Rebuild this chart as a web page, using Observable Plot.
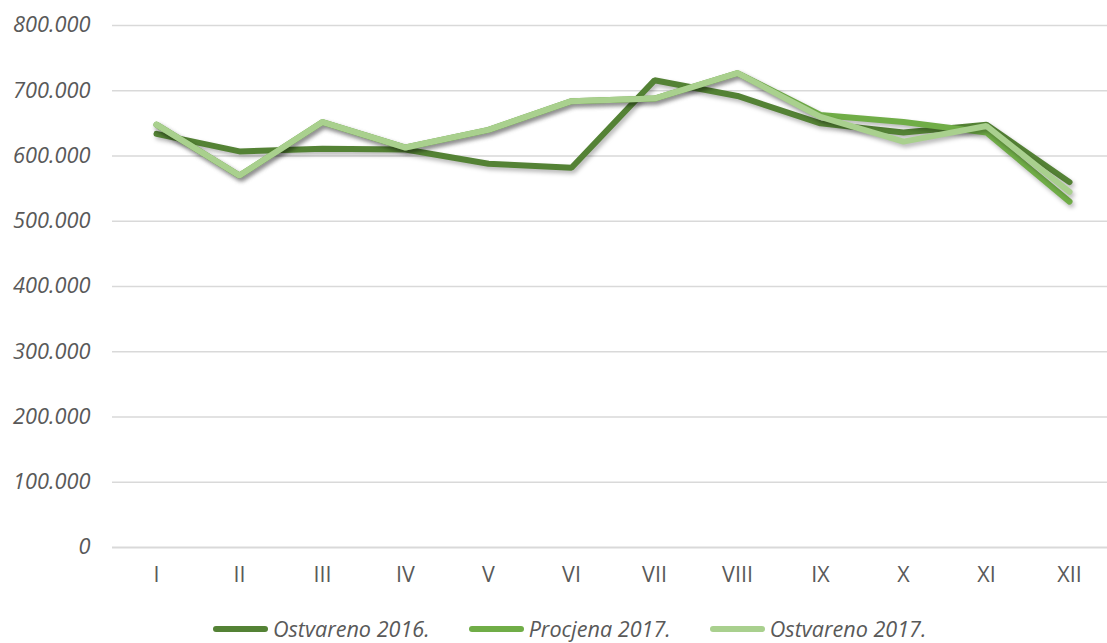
<!DOCTYPE html>
<html>
<head>
<meta charset="utf-8">
<script src="https://cdn.jsdelivr.net/npm/d3@7"></script>
<script src="https://cdn.jsdelivr.net/npm/@observablehq/plot@0.6"></script>
<style>
  html, body { margin: 0; padding: 0; background: #fff; }
  #chart { position: relative; width: 1107px; height: 643px; overflow: hidden; }
  .shadow { filter: drop-shadow(2px 3px 2px rgba(0,0,0,0.28)); }
  #legend { position: absolute; left: 213px; top: 614px; display: flex; align-items: center;
    font-family: "Open Sans", sans-serif; font-style: italic; font-size: 21.6px; color: #595959; }
  .item { display: flex; align-items: center; margin-right: 39px; }
  .sw { width: 55px; height: 6px; border-radius: 3px; margin-right: 5px; }
</style>
</head>
<body>
<div id="chart"></div>
<script>
const months = ["I","II","III","IV","V","VI","VII","VIII","IX","X","XI","XII"];
const seriesNames = ["Ostvareno 2016.", "Procjena 2017.", "Ostvareno 2017."];
const seriesColors = ["#548235", "#70ad47", "#a9d08e"];
const ostvareno2016 = [634000, 607000, 611000, 610000, 588000, 582000, 716000, 692000, 650000, 636000, 648000, 560000];
const procjena2017  = [648000, 570000, 652000, 613000, 640000, 684000, 688000, 727000, 663000, 652000, 636000, 530000];
const ostvareno2017 = [648000, 570000, 652000, 613000, 640000, 684000, 688000, 727000, 660000, 622000, 646000, 545000];
const yTicks = [0, 100000, 200000, 300000, 400000, 500000, 600000, 700000, 800000];

const allSeries = [ostvareno2016, procjena2017, ostvareno2017];
const data = [];
allSeries.forEach((vals, s) => vals.forEach((v, i) => data.push({month: months[i], value: v, series: seriesNames[s]})));

const fmt = d => d === 0 ? "0" : d3.format(",")(d).replace(/,/g, ".");

const marks = [
  Plot.ruleY(yTicks.filter(d => d > 0), {stroke: "#d9d9d9", strokeWidth: 1.5}),
  Plot.ruleY([0], {stroke: "#d9d9d9", strokeWidth: 2}),
  Plot.axisY({ticks: yTicks, tickFormat: fmt, tickSize: 0, tickPadding: 22, label: null,
    fontSize: 21.8, fontStyle: "italic", fill: "#595959"}),
  Plot.axisX({tickSize: 0, tickPadding: 19, label: null, fontSize: 21.5, fill: "#595959"})
];
seriesNames.forEach((name, s) => {
  marks.push(Plot.line(data.filter(d => d.series === name), {
    x: "month", y: "value", stroke: seriesColors[s], strokeWidth: 6,
    strokeLinejoin: "miter", strokeLinecap: "round", className: "shadow"
  }));
});

const plot = Plot.plot({
  width: 1107,
  height: 600,
  marginTop: 25,
  marginBottom: 53,
  marginLeft: 112,
  marginRight: 0,
  style: {fontFamily: "'Open Sans', sans-serif", color: "#595959", background: "#fff"},
  x: {type: "point", domain: months, padding: 0.5, range: [112, 1112]},
  y: {domain: [0, 800000], range: [547, 25]},
  marks
});
const chart = document.getElementById("chart");
chart.appendChild(plot);

const legend = document.createElement("div");
legend.id = "legend";
seriesNames.forEach((name, s) => {
  const it = document.createElement("div");
  it.className = "item";
  const sw = document.createElement("div");
  sw.className = "sw";
  sw.style.background = seriesColors[s];
  const t = document.createElement("span");
  t.textContent = name;
  it.appendChild(sw); it.appendChild(t);
  legend.appendChild(it);
});
chart.appendChild(legend);
</script>
</body>
</html>
